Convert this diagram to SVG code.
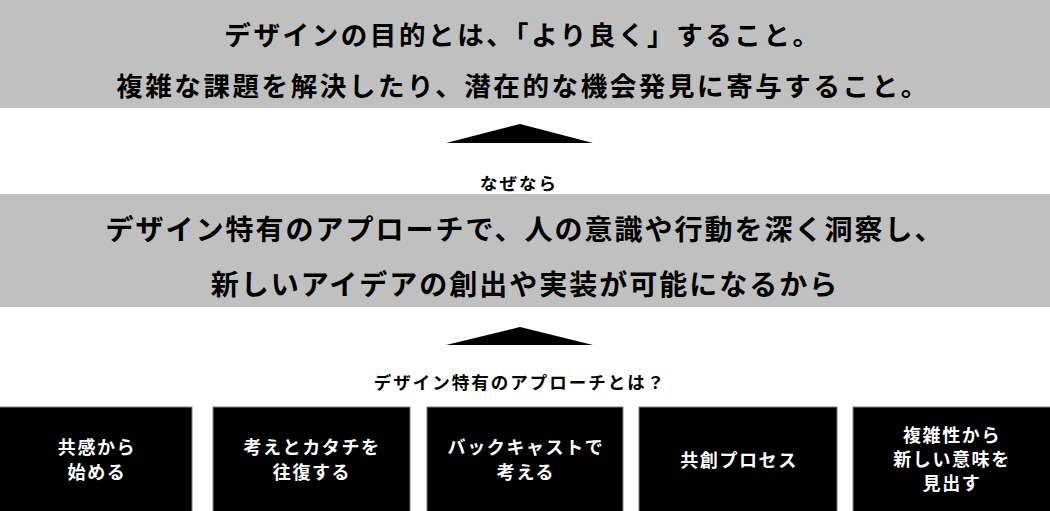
<svg xmlns="http://www.w3.org/2000/svg" width="1050" height="511" viewBox="0 0 1050 511">
<style>
text{font-family:"Noto Sans CJK JP","Noto Sans",sans-serif;font-weight:bold;text-anchor:middle;dominant-baseline:central}
.band{fill:#c0c0c0}
.big1{font-size:26.5px;letter-spacing:2.6px;fill:#000}
.big2{font-size:28px;letter-spacing:2px;fill:#000}
.lbl{font-size:17.5px;letter-spacing:2px;fill:#000}
.box{fill:#000;stroke:#808080;stroke-width:1}
.bt{font-size:18px;letter-spacing:1.6px;fill:#fff}
.tri{fill:#000}
</style>
<rect width="1050" height="511" fill="#fff"/>
<g id="goal">
<rect class="band" x="0" y="0" width="1050" height="108"/>
<text class="big1" x="523" y="33">デザインの目的とは、「より良く」すること。</text>
<text class="big1" x="523" y="84">複雑な課題を解決したり、潜在的な機会発見に寄与すること。</text>
</g>
<g id="reason">
<rect class="band" x="0" y="194" width="1050" height="113"/>
<text class="big2" x="525" y="228">デザイン特有のアプローチで、人の意識や行動を深く洞察し、</text>
<text class="big2" x="525" y="283">新しいアイデアの創出や実装が可能になるから</text>
</g>
<g id="connectors">
<polygon class="tri" points="446,143 520,124 593,143"/>
<text class="lbl" x="519" y="182">なぜなら</text>
<polygon class="tri" points="446,345 520,327 593,345"/>
<text class="lbl" x="520" y="381">デザイン特有のアプローチとは？</text>
</g>
<g id="box1">
<rect class="box" x="-1" y="407" width="193" height="105"/>
<text class="bt" x="97" y="446">共感から</text>
<text class="bt" x="97" y="471">始める</text>
</g>
<g id="box2">
<rect class="box" x="213" y="407" width="197" height="105"/>
<text class="bt" x="312" y="446">考えとカタチを</text>
<text class="bt" x="312" y="471">往復する</text>
</g>
<g id="box3">
<rect class="box" x="427" y="407" width="196" height="105"/>
<text class="bt" x="526" y="446">バックキャストで</text>
<text class="bt" x="526" y="471">考える</text>
</g>
<g id="box4">
<rect class="box" x="639" y="407" width="198" height="105"/>
<text class="bt" x="739" y="459">共創プロセス</text>
</g>
<g id="box5">
<rect class="box" x="853" y="407" width="198" height="105"/>
<text class="bt" x="952" y="434">複雑性から</text>
<text class="bt" x="952" y="458">新しい意味を</text>
<text class="bt" x="952" y="482">見出す</text>
</g>
</svg>
